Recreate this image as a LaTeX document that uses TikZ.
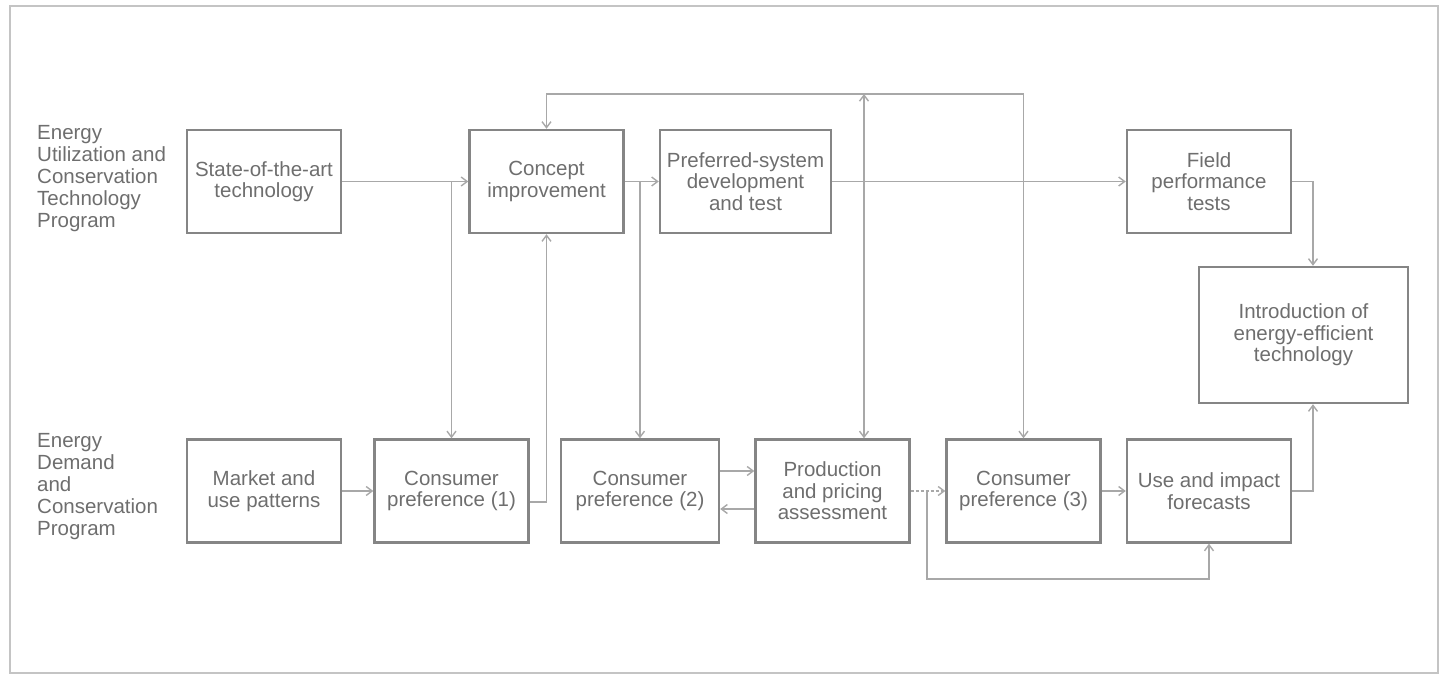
\documentclass[tikz,border=0pt]{standalone}
\usepackage{fontspec}
\setmainfont{Liberation Sans}
\usetikzlibrary{calc}
\usetikzlibrary{arrows.meta}

\definecolor{boxgray}{HTML}{858585}
\definecolor{txtgray}{HTML}{6E6E6E}
\definecolor{lngray}{HTML}{A8A8A8}
\definecolor{framegray}{HTML}{C4C4C4}

\tikzset{
  box/.style={draw=boxgray, line width=2.4pt, minimum width=154pt, minimum height=103pt,
    align=center, text=txtgray, inner sep=2pt, font=\fontsize{20.5}{21.5}\selectfont},
  prog/.style={anchor=west, align=left, text=txtgray, inner sep=0pt,
    font=\fontsize{20.5}{22}\selectfont},
  link/.style={lngray, line width=1.4pt, ->}
}

\begin{document}
\begin{tikzpicture} [x=1pt, y=-1pt, >={Straight Barb[length=6pt,width=9pt]}]
\useasboundingbox (0,0) rectangle (1444,685);
\draw[framegray, line width=1.5pt] (10,6) rectangle (1438,673);

\node[prog] (tprog) at (37,179) {Energy\\Utilization and\\Conservation\\Technology\\Program};
\node[prog] (dprog) at (37,487) {Energy\\Demand\\and\\Conservation\\Program};

\node[box] (sota) at (264,181.5) {State-of-the-art\\technology};
\node[box] (con) at (546.5,181.5) {Concept\\improvement};
\node[box, minimum width=171pt] (pref) at (745.5,181.5) {Preferred-system\\development\\and test};
\node[box, minimum width=164pt] (fld) at (1209,181.5) {Field\\performance\\tests};
\node[box, minimum width=209pt, minimum height=136pt] (intro) at (1303.5,335) {Introduction of\\energy-efficient\\technology};

\node[box] (mkt) at (264,491) {Market and\\use patterns};
\node[box] (cp1) at (451.5,491) {Consumer\\preference (1)};
\node[box, minimum width=158pt] (cp2) at (640,491) {Consumer\\preference (2)};
\node[box] (prod) at (832.5,491) {Production\\and pricing\\assessment};
\node[box] (cp3) at (1023.5,491) {Consumer\\preference (3)};
\node[box, minimum width=164pt] (use) at (1209,491) {Use and impact\\forecasts};

\coordinate (top) at (864,94);
\coordinate (lp) at (927,579);

\draw[link] (sota.east) -- (con.west);
\draw[link] (cp1.north |- con.west) -- (cp1.north);
\draw[link] (con.east) -- (pref.west);
\draw[link] (cp2.north |- con.east) -- (cp2.north);
\draw[link] (pref.east) -- (fld.west);
\draw[link] (fld.east) -| ([xshift=9.5pt]intro.north);
\draw[link] (use.east) -| ([xshift=9.5pt]intro.south);

\draw[link] (mkt.east) -- (cp1.west);
\draw[link] ([yshift=-11pt]cp1.east) -| (con.south);
\draw[link] ([yshift=20pt]cp2.east) -- ([yshift=20pt]prod.west);
\draw[link] ([yshift=-18pt]prod.west) -- ([yshift=-18pt]cp2.east);
\draw[link, densely dashed] (prod.east) -- (cp3.west);
\draw[link] (cp3.east) -- (use.west);
\draw[link] (prod.east -| lp) -- (lp) -| (use.south);

\draw[link, <->] (prod.north -| top) -- (top);
\draw[link] (top) -| (con.north);
\draw[link] (top) -| (cp3.north);
\end{tikzpicture}
\end{document}
